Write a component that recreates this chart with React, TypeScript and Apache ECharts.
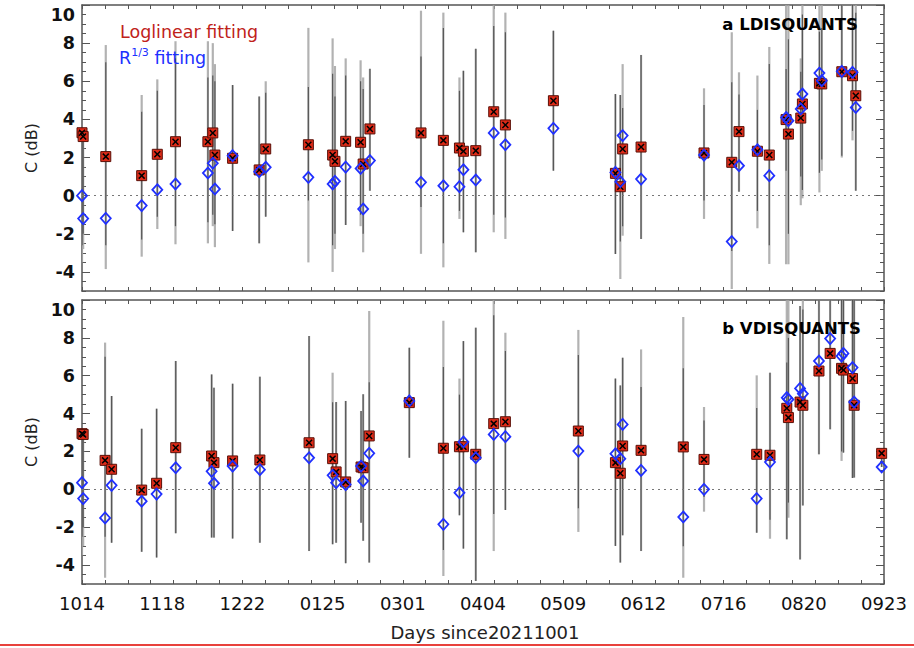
import React, { useEffect, useRef } from 'react';
import * as echarts from 'echarts';

// ---------- axis labels ----------
const tickLabels = ['1014', '1118', '1222', '0125', '0301', '0404', '0509', '0612', '0716', '0820', '0923'];
const tickDays = [13, 47.4, 81.8, 116.2, 150.6, 185, 219.4, 253.8, 288.2, 322.6, 357];
const yTickValues = [-4, -2, 0, 2, 4, 6, 8, 10];

// ---------- panel a : LDISQUANTS ----------
const daysA = [13.0, 13.5, 23.2, 38.6, 45.3, 53.1, 67.0, 69.1, 70.0, 77.6, 89.0, 91.8, 110.1, 120.5, 121.5, 126.1, 132.5, 133.6, 136.5, 158.4, 168.0, 174.9, 176.6, 181.9, 189.6, 194.6, 215.2, 241.8, 243.9, 244.9, 252.8, 279.8, 291.7, 294.8, 302.7, 307.8, 315.0, 316.0, 321.3, 322.0, 329.3, 330.3, 338.9, 343.5, 344.9];
const loglinA = [3.3, 3.1, 2.05, 1.05, 2.17, 2.83, 2.83, 3.29, 2.13, 1.96, 1.35, 2.45, 2.67, 2.13, 1.8, 2.85, 2.8, 1.66, 3.5, 3.29, 2.9, 2.5, 2.33, 2.36, 4.4, 3.71, 4.98, 1.17, 0.47, 2.45, 2.55, 2.24, 1.75, 3.36, 2.33, 2.13, 3.99, 3.23, 4.07, 4.81, 5.89, 5.86, 6.5, 6.29, 5.24];
const r13A = [0.0, -1.2, -1.19, -0.52, 0.31, 0.61, 1.19, 1.7, 0.35, 2.1, 1.26, 1.49, 0.96, 0.61, 0.75, 1.5, 1.43, -0.7, 1.84, 0.7, 0.52, 0.47, 1.36, 0.82, 3.29, 2.67, 3.53, 1.22, 0.73, 3.15, 0.87, 2.13, -2.41, 1.57, 2.41, 1.05, 4.1, 3.93, 4.55, 5.33, 6.43, 6.03, 6.52, 6.47, 4.63];
const r13ErrLoA = [-3.5, -2.8, -3.85, -3.2, -1.75, -2.55, -2.5, -1.6, -2.7, -1.85, -2.5, -1.1, -3.5, -4.0, -2.8, -1.54, -1.6, -2.97, 0.26, -3.05, -3.76, -1.22, -1.92, -2.97, -1.92, -2.27, 1.31, -3.06, -4.37, -2.1, -2.27, -1.22, -4.9, 0.21, -1.71, -3.58, -3.6, -3.6, -0.5, -0.14, 0.17, 1.3, 2.0, 2.9, 0.26];
const r13ErrHiA = [3.3, 3.1, 7.9, 5.28, 6.1, 8.1, 8.1, 8.0, 6.9, 5.8, 5.2, 6.0, 8.8, 8.25, 6.8, 7.2, 7.1, 6.2, 6.65, 9.7, 9.6, 6.2, 6.55, 7.7, 10, 9.6, 8.65, 5.33, 5.28, 6.9, 7.38, 5.63, 8.57, 6.47, 6.3, 7.8, 10, 10, 7.2, 10, 10, 10, 10, 10, 10];
const logErrLoA = [-2.6, -2.0, -2.6, -2.3, -1.1, -1.6, -1.4, -1.0, -1.5, -1.85, -2.5, -1.1, -0.26, -2.6, -2.0, -1.54, -1.0, -2.0, 0.26, -0.6, -2.5, -0.8, -1.92, -2.97, -1.0, -1.14, 1.31, -3.06, -2.4, -1.6, -2.27, -0.26, -2.9, 0.21, -0.8, -2.6, 1.31, -2.0, 1.0, 0.3, 1.2, 1.9, 2.1, 3.4, 0.26];
const logErrHiA = [3.3, 3.0, 7.0, 4.4, 5.5, 7.2, 6.2, 6.3, 6.0, 5.8, 5.2, 5.4, 5.7, 6.4, 5.2, 6.3, 6.0, 5.6, 6.65, 7.3, 8.8, 5.5, 6.55, 7.7, 8.9, 8.57, 8.65, 5.33, 5.28, 4.6, 7.38, 4.76, 5.95, 5.3, 4.5, 6.9, 6.64, 8.2, 6.5, 9.5, 8.6, 8.8, 10, 10, 9.6];

// ---------- panel b : VDISQUANTS ----------
const daysB = [13.0, 13.5, 22.9, 25.7, 38.6, 45.0, 53.2, 68.6, 69.6, 77.6, 89.3, 110.4, 120.5, 122.0, 126.1, 132.7, 133.6, 136.2, 153.4, 168.0, 174.9, 176.6, 181.9, 189.6, 194.6, 225.9, 241.8, 243.9, 244.9, 252.8, 270.9, 279.8, 302.4, 308.1, 315.3, 316.0, 321.0, 322.2, 329.1, 333.9, 338.8, 339.6, 343.5, 344.2, 356.0];
const loglinB = [2.94, 2.9, 1.53, 1.06, -0.04, 0.32, 2.2, 1.76, 1.41, 1.5, 1.55, 2.46, 1.62, 0.92, 0.39, 1.18, 1.14, 2.82, 4.58, 2.17, 2.25, 2.25, 1.85, 3.47, 3.57, 3.08, 1.41, 0.85, 2.29, 2.06, 2.24, 1.58, 1.85, 1.8, 4.28, 3.79, 4.61, 4.44, 6.25, 7.18, 6.39, 6.3, 5.85, 4.44, 1.9];
const r13B = [0.35, -0.49, -1.51, 0.21, -0.63, -0.25, 1.14, 0.95, 0.32, 1.23, 1.04, 1.67, 0.74, 0.35, 0.25, 1.23, 0.44, 1.9, 4.67, -1.85, -0.18, 2.5, 1.67, 2.9, 2.78, 2.02, 1.88, 1.62, 3.43, 1.0, -1.46, 0.0, -0.49, 1.44, 4.84, 4.75, 5.33, 5.05, 6.78, 7.96, 7.04, 7.18, 6.43, 4.61, 1.18];
const r13ErrLoB = [-3.5, -3.0, -4.67, -2.82, -3.3, -3.6, -2.32, -2.55, -2.55, -2.6, -2.82, -3.26, -2.9, -2.82, -3.9, -1.76, -2.72, -3.87, 1.67, -4.58, -1.37, -3.13, -4.84, -3.26, -1.09, -2.25, -2.99, -3.87, -2.43, -3.26, -4.67, -1.18, -2.29, -2.61, -2.64, -1.5, -3.7, -0.85, 1.85, 3.17, 1.5, 1.94, 0.6, 0.62, 1.18];
const r13ErrHiB = [3.0, 2.9, 7.75, 4.93, 3.2, 4.26, 6.78, 6.07, 5.37, 5.58, 5.95, 8.1, 6.16, 4.61, 4.67, 4.14, 5.02, 9.42, 7.48, 8.9, 5.85, 7.83, 8.54, 10, 8.27, 8.42, 5.85, 5.49, 6.95, 7.39, 9.1, 4.35, 6.02, 6.16, 10, 10, 9.68, 10, 10, 10, 10, 10, 10, 10, 1.9];
const logErrLoB = [-2.5, -2.0, -2.5, -2.82, -3.3, -3.6, -2.32, -2.55, -2.55, -2.6, -2.82, -3.26, -2.9, -2.82, -3.9, -1.76, -2.72, -3.87, 1.67, -3.2, -1.37, -3.13, -4.84, -1.3, -1.09, -1.0, -2.99, -3.87, -2.43, -3.26, -3.0, -0.4, -2.29, -1.6, -2.64, -0.7, -3.7, -0.85, 1.85, 3.17, 2.0, 1.94, 0.6, 0.62, 1.18];
const logErrHiB = [2.9, 2.9, 7.0, 4.93, 3.2, 4.26, 6.78, 6.07, 5.37, 5.58, 5.95, 8.1, 4.6, 4.61, 4.67, 4.14, 5.02, 5.65, 7.48, 6.46, 5.0, 7.83, 8.54, 9.2, 7.3, 7.1, 5.85, 5.49, 6.95, 5.4, 6.4, 3.63, 4.3, 6.16, 6.7, 8.0, 9.68, 9.5, 10, 10, 10, 10, 10, 10, 1.9];

// ---------- styling constants ----------
const FONT = '"DejaVu Sans", "Liberation Sans", Arial, sans-serif';
const X_MIN = 13;
const X_MAX = 357;
const X_MINOR = (X_MAX - X_MIN) / 35;
const FRAME = '#555555';
const RED = '#dd2b18';
const BLUE = '#2030ff';
const XPATH = 'path://M0,1.5 L1.5,0 L5,3.5 L8.5,0 L10,1.5 L6.5,5 L10,8.5 L8.5,10 L5,6.5 L1.5,10 L0,8.5 L3.5,5 Z';

function labelFor(v: number) {
  let best = 0;
  let bd = Infinity;
  tickDays.forEach((d, i) => {
    const dd = Math.abs(d - v);
    if (dd < bd) { bd = dd; best = i; }
  });
  return tickLabels[best];
}

function xAxisDef(grid: number, position: 'top' | 'bottom', showLabels: boolean) {
  return {
    type: 'value',
    gridIndex: grid,
    position,
    min: X_MIN,
    max: X_MAX,
    interval: X_MINOR,
    axisLine: { show: true, onZero: false, lineStyle: { color: FRAME, width: 1.5 } },
    axisTick: { show: true, inside: true, length: 4, lineStyle: { color: FRAME, width: 1 } },
    axisLabel: showLabels
      ? {
          show: true,
          customValues: tickDays,
          formatter: (v: number) => labelFor(v),
          fontSize: 18,
          color: '#111',
          fontFamily: FONT,
          margin: 10,
        }
      : { show: false },
    splitLine: { show: false },
  };
}

function yMajor(grid: number, position: 'left' | 'right') {
  const left = position === 'left';
  return {
    type: 'value',
    gridIndex: grid,
    position,
    min: -5,
    max: 10,
    name: left ? 'C (dB)' : '',
    nameLocation: 'middle',
    nameGap: 42,
    nameTextStyle: { fontSize: 16, color: '#222', fontFamily: FONT },
    axisLine: { show: true, onZero: false, lineStyle: { color: FRAME, width: 1.5 } },
    axisTick: { show: true, inside: true, length: 8, customValues: yTickValues, lineStyle: { color: FRAME, width: 1 } },
    axisLabel: left
      ? {
          show: true,
          customValues: yTickValues,
          margin: 7,
          formatter: (v: number) => (v === 10 ? '{top|10}' : '{n|' + v + '}'),
          rich: {
            n: { fontSize: 17.5, fontWeight: 'bold', color: '#111', fontFamily: FONT },
            top: { fontSize: 17.5, fontWeight: 'bold', color: '#111', fontFamily: FONT, padding: [20, 0, 0, 0] },
          },
        }
      : { show: false },
    splitLine: { show: false },
  };
}

function yMinor(grid: number, position: 'left' | 'right') {
  return {
    type: 'value',
    gridIndex: grid,
    position,
    min: -5,
    max: 10,
    interval: 0.5,
    axisLine: { show: false },
    axisTick: { show: true, inside: true, length: 4, lineStyle: { color: FRAME, width: 1 } },
    axisLabel: { show: false },
    splitLine: { show: false },
  };
}

function barRenderer(color: string, width: number) {
  return (params: any, api: any) => {
    const x = api.value(0);
    const p1 = api.coord([x, api.value(1)]);
    const p2 = api.coord([x, api.value(2)]);
    return {
      type: 'line',
      shape: { x1: p1[0], y1: p1[1], x2: p2[0], y2: p2[1] },
      style: { stroke: color, lineWidth: width },
    };
  };
}

function panelSeries(
  xi: number,
  yi: number,
  days: number[],
  loglin: number[],
  r13: number[],
  rLo: number[],
  rHi: number[],
  lLo: number[],
  lHi: number[]
) {
  return [
    {
      type: 'custom',
      xAxisIndex: xi,
      yAxisIndex: yi,
      clip: true,
      z: 2,
      renderItem: barRenderer('rgba(165,165,165,0.85)', 2.2),
      encode: { x: 0, y: [1, 2] },
      data: days.map((d, i) => [d, rLo[i], rHi[i]]),
    },
    {
      type: 'custom',
      xAxisIndex: xi,
      yAxisIndex: yi,
      clip: true,
      z: 3,
      renderItem: barRenderer('rgba(70,70,70,0.85)', 1.2),
      encode: { x: 0, y: [1, 2] },
      data: days.map((d, i) => [d, lLo[i], lHi[i]]),
    },
    {
      type: 'scatter',
      xAxisIndex: xi,
      yAxisIndex: yi,
      z: 4,
      symbol: 'rect',
      symbolSize: 10,
      itemStyle: { color: RED, borderColor: '#5a1008', borderWidth: 1, opacity: 1 },
      data: days.map((d, i) => [d, loglin[i]]),
    },
    {
      type: 'scatter',
      xAxisIndex: xi,
      yAxisIndex: yi,
      z: 5,
      symbol: XPATH,
      symbolSize: 7,
      itemStyle: { color: '#000', opacity: 1 },
      data: days.map((d, i) => [d, loglin[i]]),
    },
    {
      type: 'scatter',
      xAxisIndex: xi,
      yAxisIndex: yi,
      z: 6,
      symbol: 'diamond',
      symbolSize: [10, 11],
      itemStyle: { color: 'rgba(255,255,255,0)', borderColor: BLUE, borderWidth: 1.8, opacity: 1 },
      data: days.map((d, i) => [d, r13[i]]),
      markLine: {
        silent: true,
        symbol: ['none', 'none'],
        label: { show: false },
        lineStyle: { type: [2, 4], color: '#777', width: 1 },
        data: [{ yAxis: 0 }],
      },
    },
  ];
}

export default function App() {
  const ref = useRef<HTMLDivElement>(null);
  useEffect(() => {
    if (!ref.current) return;
    const chart = echarts.init(ref.current, undefined, { renderer: 'svg' });
    const option: any = {
      animation: false,
      backgroundColor: '#ffffff',
      grid: [
        { left: 82, right: 30, top: 5, height: 286 },
        { left: 82, right: 30, top: 300, height: 284 },
      ],
      xAxis: [
        xAxisDef(0, 'bottom', false),
        xAxisDef(0, 'top', false),
        xAxisDef(1, 'bottom', true),
        xAxisDef(1, 'top', false),
      ],
      yAxis: [
        yMajor(0, 'left'),
        yMinor(0, 'left'),
        yMajor(0, 'right'),
        yMinor(0, 'right'),
        yMajor(1, 'left'),
        yMinor(1, 'left'),
        yMajor(1, 'right'),
        yMinor(1, 'right'),
      ],
      series: [
        ...panelSeries(0, 1, daysA, loglinA, r13A, r13ErrLoA, r13ErrHiA, logErrLoA, logErrHiA),
        ...panelSeries(2, 5, daysB, loglinB, r13B, r13ErrLoB, r13ErrHiB, logErrLoB, logErrHiB),
      ],
      graphic: [
        {
          type: 'text',
          x: 120,
          y: 32,
          z: 10,
          style: { text: 'Loglinear fitting', fill: '#c0221a', font: '17.5px ' + FONT, align: 'left', verticalAlign: 'middle' },
        },
        {
          type: 'text',
          x: 119,
          y: 58,
          z: 10,
          style: {
            text: '{a|R}{s|1/3}{a| fitting}',
            fill: BLUE,
            align: 'left',
            verticalAlign: 'middle',
            rich: {
              a: { fontSize: 17.5, fontFamily: FONT, fill: BLUE, lineHeight: 22 },
              s: { fontSize: 11, fontFamily: FONT, fill: BLUE, verticalAlign: 'top', lineHeight: 22 },
            },
          },
        },
        {
          type: 'text',
          x: 858,
          y: 24,
          z: 10,
          style: { text: 'a LDISQUANTS', fill: '#000', font: 'bold 16.5px ' + FONT, align: 'right', verticalAlign: 'middle' },
        },
        {
          type: 'text',
          x: 861,
          y: 328,
          z: 10,
          style: { text: 'b VDISQUANTS', fill: '#000', font: 'bold 16.5px ' + FONT, align: 'right', verticalAlign: 'middle' },
        },
        {
          type: 'text',
          x: 485,
          y: 632,
          z: 10,
          style: { text: 'Days since20211001', fill: '#222', font: '18px ' + FONT, align: 'center', verticalAlign: 'middle' },
        },
        {
          type: 'rect',
          shape: { x: 0, y: 644, width: 914, height: 2 },
          style: { fill: '#e8413c' },
          z: 10,
        },
      ],
    };
    chart.setOption(option);
    return () => chart.dispose();
  }, []);
  return (
    <div
      ref={ref}
      style={{ position: 'absolute', left: 0, top: 0, width: 914, height: 648, background: '#fff' }}
    />
  );
}
